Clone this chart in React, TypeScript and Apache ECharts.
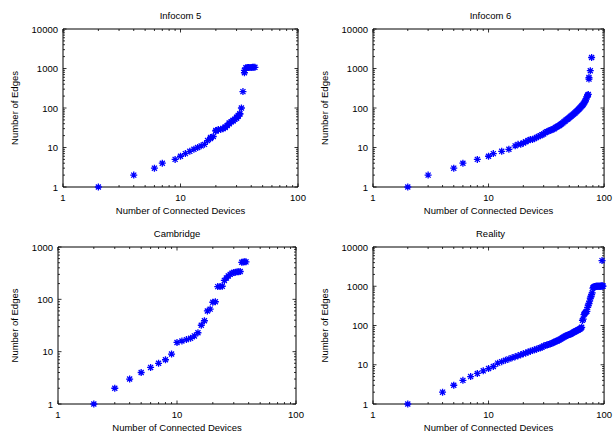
import React, { useEffect, useRef } from "react";
import * as echarts from "echarts";

const titles = ["Infocom 5", "Infocom 6", "Cambridge", "Reality"];
const xAxisName = "Number of Connected Devices";
const yAxisName = "Number of Edges";

const inf5X = [2,4,6,7,9,10,11,12,13,14,15,16,17,18,18,19,20,20,21,21,22,23,24,24,25,26,26,27,28,28,29,30,30,31,31,32,32,33,34,35,35,36,37,38,39,40,41,42,43];
const inf5Y = [1,2,3,4,5,6,7,8,9,10,11,12,15,17,18,19,26,27,28,28,29,30,32,33,36,40,42,45,47,49,52,55,58,62,65,70,72,100,260,780,900,1040,1060,1060,1060,1060,1070,1070,1070];

const inf6X = [2,3,5,6,8,10,11,13,15,17,18,19,20,21,22,23,24,25,26,27,28,29,30,31,32,33,34,35,36,37,38,39,40,41,42,43,44,45,46,47,48,49,50,51,52,53,54,55,56,57,58,59,60,61,62,63,64,65,66,67,68,69,70,71,72,73,74,74,76,78];
const inf6Y = [1,2,3,4,5,6,7,8,9,11,12,12,13,14,15,16,16,17,18,19,20,21,22,24,25,26,27,28,29,30,32,33,35,36,38,40,42,45,47,50,52,54,57,60,63,66,69,72,75,79,83,87,92,96,101,106,112,118,125,133,142,155,170,190,210,220,540,590,880,1900];

const camX = [2,3,4,5,6,7,8,9,10,11,12,13,14,15,16,17,18,19,20,21,22,23,24,25,26,27,28,29,30,31,32,33,34,35,36,37,38];
const camY = [1,2,3,4,5,6,7,9,15,16,17,18,20,23,32,39,60,65,88,90,175,175,178,230,255,280,300,315,325,330,335,335,340,510,515,520,520];

const realX = [2,4,5,6,7,8,9,10,11,12,13,14,15,16,17,18,19,20,21,22,23,24,25,26,27,28,29,30,31,32,33,34,35,36,37,38,39,40,41,42,43,44,45,46,47,48,49,50,51,52,53,54,55,56,57,58,59,60,61,62,63,64,65,66,67,68,69,70,71,72,73,74,75,76,77,78,79,80,81,82,83,84,85,86,87,88,89,90,91,92,93,94,95,96,97,98,96];
const realY = [1,2,3,4,5,6,7,8,9,11,12,13,14,15,16,17,18,19,20,21,22,23,24,25,26,27,28,30,31,32,33,34,35,36,38,39,40,42,43,45,47,49,51,53,55,56,58,59,60,62,64,66,68,70,72,74,76,78,80,82,85,90,135,145,190,200,215,225,230,290,330,360,420,500,540,620,680,900,940,960,980,990,1000,1000,1000,1000,1000,1000,1005,1005,1005,1010,1010,1010,1010,1010,4500];

const xsList = [inf5X, inf6X, camX, realX];
const ysList = [inf5Y, inf6Y, camY, realY];
const yMaxList = [10000, 10000, 1000, 10000];

const xMajorTicks = [1, 10, 100];
const xMinorTicks = [2,3,4,5,6,7,8,9,20,30,40,50,60,70,80,90];
const yMajorTicks = [1, 10, 100, 1000, 10000];
const yMinorTicks = [2,3,4,5,6,7,8,9,20,30,40,50,60,70,80,90,200,300,400,500,600,700,800,900,2000,3000,4000,5000,6000,7000,8000,9000];

const grids = [
  { left: 63, top: 29, width: 235, height: 158 },
  { left: 373, top: 29, width: 235, height: 158 },
  { left: 58, top: 247, width: 238, height: 157 },
  { left: 373, top: 247, width: 235, height: 157 },
];
const yNameGaps = [44, 44, 39, 44];

const FONT = "'Liberation Sans', Arial, Helvetica, sans-serif";
const BLUE = "#0000ff";
const STAR = "path://M0,-1L0,1M-1,0L1,0M-0.72,-0.72L0.72,0.72M-0.72,0.72L0.72,-0.72";

export default function App() {
  const ref = useRef<HTMLDivElement>(null);
  useEffect(() => {
    if (!ref.current) return;
    const chart = echarts.init(ref.current, null, { renderer: "svg" });

    const xAxes: any[] = [];
    const yAxes: any[] = [];
    const series: any[] = [];
    const graphics: any[] = [];

    grids.forEach((g, i) => {
      const yMax = yMaxList[i];
      xAxes.push({
        type: "log", logBase: 10, gridIndex: i, min: 1, max: 100,
        name: xAxisName, nameLocation: "middle", nameGap: 18,
        nameTextStyle: { fontFamily: FONT, fontSize: 9.5, color: "#000" },
        axisLine: { show: false }, axisTick: { show: false }, splitLine: { show: false },
        axisLabel: { fontFamily: FONT, fontSize: 9.5, color: "#000", margin: 5, formatter: (v: number) => String(Math.round(v)) },
      });
      yAxes.push({
        type: "log", logBase: 10, gridIndex: i, min: 1, max: yMax,
        name: yAxisName, nameLocation: "middle", nameGap: yNameGaps[i],
        nameTextStyle: { fontFamily: FONT, fontSize: 9.5, color: "#000" },
        axisLine: { show: false }, axisTick: { show: false }, splitLine: { show: false },
        axisLabel: { fontFamily: FONT, fontSize: 9.5, color: "#000", margin: 5, formatter: (v: number) => String(Math.round(v)) },
      });
      const xs = xsList[i];
      const ys = ysList[i];
      series.push({
        type: "scatter", xAxisIndex: i, yAxisIndex: i,
        data: xs.map((x, k) => [x, ys[k]]),
        symbol: STAR, symbolSize: 7,
        itemStyle: { color: "rgba(0,0,0,0)", borderColor: BLUE, borderWidth: 1.3, opacity: 1 },
        silent: true,
      });
      const yTicks = [
        ...yMajorTicks.filter((v) => v <= yMax).map((v) => [1, v, 1, 1]),
        ...yMinorTicks.filter((v) => v < yMax).map((v) => [1, v, 1, 0]),
      ];
      const xTicks = [
        ...xMajorTicks.map((v) => [v, 1, 0, 1]),
        ...xMinorTicks.map((v) => [v, 1, 0, 0]),
      ];
      series.push({
        type: "custom", xAxisIndex: i, yAxisIndex: i, clip: false, silent: true,
        data: [...xTicks, ...yTicks],
        renderItem: (params: any, api: any) => {
          const cs = params.coordSys;
          const kind = api.value(2);
          const major = api.value(3);
          const len = major ? 3.5 : 2;
          const p = api.coord([api.value(0), api.value(1)]);
          const style = { stroke: "#000", lineWidth: 0.8 };
          if (kind === 0) {
            const px = p[0];
            return {
              type: "group",
              children: [
                { type: "line", shape: { x1: px, y1: cs.y + cs.height, x2: px, y2: cs.y + cs.height - len }, style },
                { type: "line", shape: { x1: px, y1: cs.y, x2: px, y2: cs.y + len }, style },
              ],
            };
          }
          const py = p[1];
          return {
            type: "group",
            children: [
              { type: "line", shape: { x1: cs.x, y1: py, x2: cs.x + len, y2: py }, style },
              { type: "line", shape: { x1: cs.x + cs.width, y1: py, x2: cs.x + cs.width - len, y2: py }, style },
            ],
          };
        },
      });
      graphics.push({
        type: "text", x: g.left + g.width / 2, y: g.top - 14,
        style: { text: titles[i], fontFamily: FONT, fontSize: 9.5, fill: "#000", textAlign: "center", textVerticalAlign: "middle" },
      });
    });

    chart.setOption({
      animation: false,
      backgroundColor: "#fff",
      grid: grids.map((g) => ({ ...g, show: true, borderColor: "#000", borderWidth: 1, backgroundColor: "transparent", containLabel: false })),
      xAxis: xAxes,
      yAxis: yAxes,
      series,
      graphic: graphics,
    });
    return () => chart.dispose();
  }, []);
  return <div ref={ref} style={{ position: "fixed", left: 0, top: 0, width: 615, height: 433 }} />;
}
